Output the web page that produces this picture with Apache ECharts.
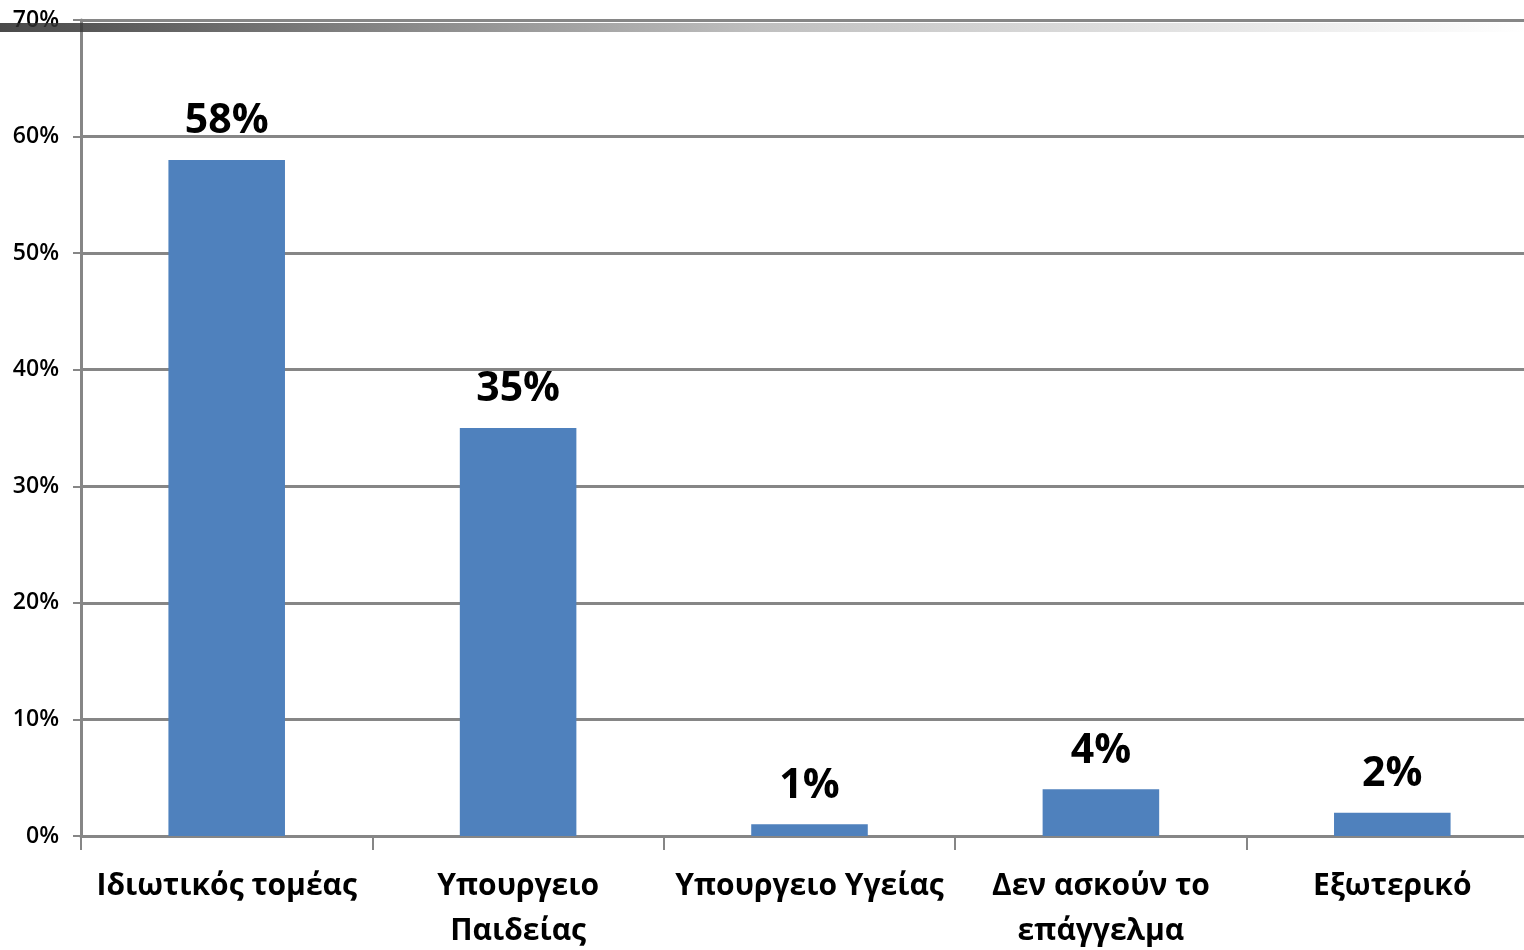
<!DOCTYPE html>
<html>
<head>
<meta charset="utf-8">
<script src="https://cdn.jsdelivr.net/npm/echarts@6/dist/echarts.min.js"></script>
<style>
  html, body { margin: 0; padding: 0; background: #fff; }
  #chart { width: 1524px; height: 950px; }
</style>
</head>
<body>
<div id="chart"></div>
<script>
// categories and values
var categories = ['Ιδιωτικός τομέας', 'Υπουργειο\nΠαιδείας', 'Υπουργειο Υγείας', 'Δεν ασκούν το\nεπάγγελμα', 'Εξωτερικό'];
var values = [58, 35, 1, 4, 2];
var yTicks = [0, 10, 20, 30, 40, 50, 60, 70];

var myChart = echarts.init(document.getElementById('chart'));

var option = {
    animation: false,
    grid: { left: 81, right: -14, top: 20, bottom: 114, containLabel: false, outerBoundsMode: 'none' },
    graphic: [{
        type: 'rect',
        z: 100,
        shape: { x: 0, y: 23, width: 1524, height: 9 },
        style: {
            fill: new echarts.graphic.LinearGradient(0, 0, 1, 0, [
                { offset: 0, color: '#2a2a2a' },
                { offset: 0.5, color: '#b5b5b5' },
                { offset: 1, color: '#ffffff' }
            ]),
            opacity: 0.85
        }
    }],
    xAxis: {
        type: 'category',
        data: categories,
        axisLine: { lineStyle: { color: '#868686', width: 3 } },
        axisTick: { show: true, length: 14, lineStyle: { color: '#868686', width: 2 } },
        axisLabel: {
            color: '#000',
            fontFamily: 'Open Sans',
            fontWeight: 'bold',
            fontSize: 30,
            lineHeight: 45,
            margin: 28,
            interval: 0
        }
    },
    yAxis: {
        type: 'value',
        min: 0,
        max: 70,
        interval: 10,
        axisLine: { show: true, lineStyle: { color: '#868686', width: 3 } },
        axisTick: { show: true, length: 8, lineStyle: { color: '#868686', width: 2 } },
        splitLine: { lineStyle: { color: '#868686', width: 3 } },
        axisLabel: {
            color: '#000',
            fontFamily: 'Open Sans',
            fontWeight: 600,
            fontSize: 23,
            margin: 22,
            formatter: function (v) { return yTicks.indexOf(v) >= 0 ? v + '%' : ''; }
        }
    },
    series: [{
        type: 'bar',
        data: values,
        barWidth: '40%',
        itemStyle: { color: '#4F81BD' },
        label: {
            show: true,
            position: 'top',
            distance: 18,
            color: '#000',
            fontFamily: 'Open Sans',
            fontWeight: 'bold',
            fontSize: 41,
            formatter: '{c}%'
        }
    }]
};

myChart.setOption(option);
</script>
</body>
</html>
